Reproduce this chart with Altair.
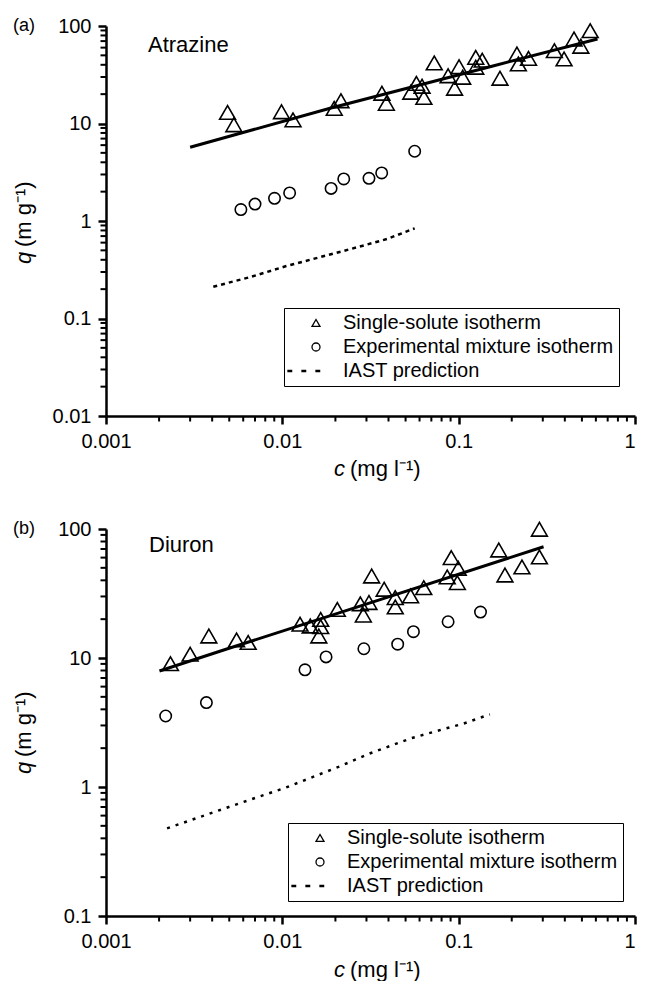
import altair as alt
import pandas as pd

# ---------------- data ----------------
# Panel (a) Atrazine
a_single_c = [0.00489, 0.00531, 0.00989, 0.0115, 0.0197, 0.0215, 0.0367, 0.0389, 0.0535,
              0.0576, 0.0620, 0.0635, 0.0727, 0.0871, 0.0948, 0.1005, 0.1054, 0.125, 0.125,
              0.136, 0.1715, 0.214, 0.218, 0.249, 0.349, 0.396, 0.451, 0.493, 0.557]
a_single_q = [13.0, 9.7, 13.2, 10.9, 14.3, 17.1, 20.4, 16.1, 20.9,
              25.8, 24.1, 18.5, 41.8, 30.9, 23.0, 38.2, 29.8, 47.7, 37.7,
              44.6, 29.1, 51.6, 40.8, 46.6, 55.8, 45.9, 73.6, 61.9, 89.5]
a_mix_c = [0.00582, 0.0070, 0.00903, 0.0110, 0.0189, 0.0223, 0.0310, 0.0366, 0.0563]
a_mix_q = [1.31, 1.49, 1.71, 1.94, 2.16, 2.70, 2.74, 3.11, 5.19]
a_fit_c = [0.0030, 0.0191, 0.1545, 0.613]
a_fit_q = [5.70, 14.5, 38.7, 73.6]
a_iast_c = [0.00406, 0.00648, 0.01042, 0.0244, 0.0393, 0.0563]
a_iast_q = [0.212, 0.264, 0.343, 0.516, 0.654, 0.841]

# Panel (b) Diuron
b_single_c = [0.00232, 0.0030, 0.00383, 0.00550, 0.0064, 0.0126, 0.0144, 0.0165, 0.0165,
              0.0161, 0.0205, 0.0277, 0.0288, 0.0310, 0.0321, 0.0378, 0.0437, 0.0437,
              0.0534, 0.0634, 0.0861, 0.0908, 0.0994, 0.0983, 0.1688, 0.183, 0.2285,
              0.287, 0.287]
b_single_q = [9.03, 10.7, 14.8, 13.8, 13.2, 18.3, 17.7, 19.9, 17.5,
              14.8, 23.8, 26.3, 21.5, 26.9, 43.2, 34.1, 29.4, 24.9,
              30.3, 35.1, 42.5, 60.0, 49.6, 38.4, 68.7, 44.0, 50.8,
              99.5, 60.7]
b_mix_c = [0.00218, 0.00371, 0.01344, 0.0177, 0.0290, 0.0451, 0.0554, 0.0871, 0.133]
b_mix_q = [3.55, 4.51, 8.1, 10.2, 11.8, 12.8, 16.0, 19.1, 22.7]
b_fit_c = [0.00201, 0.00489, 0.0293, 0.303]
b_fit_q = [7.93, 11.8, 25.9, 72.9]
b_iast_c = [0.00222, 0.00497, 0.01042, 0.0208, 0.0310, 0.0534, 0.0754, 0.1064, 0.1503]
b_iast_q = [0.478, 0.700, 0.988, 1.43, 1.81, 2.38, 2.72, 3.10, 3.66]

series_names = ["Single-solute isotherm", "Experimental mixture isotherm", "IAST prediction"]

x_major = [0.001, 0.01, 0.1, 1]
a_y_major = [0.01, 0.1, 1, 10, 100]
b_y_major = [0.1, 1, 10, 100]
minor_steps = [2, 3, 4, 5, 6, 7, 8, 9]

# ---------------- styling ----------------
FONT = "Liberation Sans, Arial, Helvetica, sans-serif"
W = 529
TICK_COLOR = "black"
DASH_PATH = ("M-7,-0.15H-6.1V0.15H-7Z M-3.5,-0.15H-2.6V0.15H-3.5Z "
             "M0,-0.15H0.9V0.15H0Z")


def minor_ticks(major):
    return [round(m * k, 6) for m in major[:-1] for k in minor_steps]


def make_axis(values, is_x):
    kw = dict(
        values=values,
        labelExpr="'' + round(datum.value*1000)/1000",
        ticks=True,
        tickSize=8,
        tickWidth=2.5,
        tickColor=TICK_COLOR,
        domainColor="black",
        domainWidth=2.5,
        labelColor="black",
        labelFont=FONT,
        labelFontSize=20,
        labelPadding=7,
        grid=False,
        title=None,
    )
    if is_x:
        kw["labelAlign"] = {"condition": {"test": "datum.value >= 0.999", "value": "right"},
                            "value": "center"}
    return alt.Axis(**kw)


def text_layer(txt, x, y, **mk):
    df = pd.DataFrame({"t": [txt]})
    return alt.Chart(df).mark_text(font=FONT, color="black", **mk).encode(
        text="t:N", x=alt.value(x), y=alt.value(y))


def panel(single_c, single_q, mix_c, mix_q, fit_c, fit_q, iast_c, iast_q,
          y_major, height, name, letter, leg_x, leg_y, iast_dash,
          name_x, name_y, qy, cy):
    xs = alt.Scale(type="log", domain=[0.001, 1], nice=False)
    ys = alt.Scale(type="log", domain=[y_major[0], y_major[-1]], nice=False)
    xax = make_axis(x_major, True)
    yax = make_axis(y_major, False)

    pts = pd.DataFrame({
        "c": single_c + mix_c,
        "q": single_q + mix_q,
        "series": [series_names[0]] * len(single_c) + [series_names[1]] * len(mix_c),
    })
    fit = pd.DataFrame({"c": fit_c, "q": fit_q})
    iast = pd.DataFrame({"c": iast_c, "q": iast_q})

    fit_line = alt.Chart(fit).mark_line(color="black", strokeWidth=3).encode(
        x=alt.X("c:Q", scale=xs, axis=xax),
        y=alt.Y("q:Q", scale=ys, axis=yax),
    )
    iast_line = alt.Chart(iast).mark_line(color="black", strokeWidth=2.5,
                                          strokeDash=iast_dash).encode(
        x=alt.X("c:Q", scale=xs), y=alt.Y("q:Q", scale=ys))
    xminor = alt.Chart(pd.DataFrame({"v": minor_ticks(x_major)})).mark_rule(
        color=TICK_COLOR, strokeWidth=2).encode(
        x=alt.X("v:Q", scale=xs), y=alt.value(height), y2=alt.value(height + 5.5))
    yminor = alt.Chart(pd.DataFrame({"v": minor_ticks(y_major)})).mark_rule(
        color=TICK_COLOR, strokeWidth=2).encode(
        y=alt.Y("v:Q", scale=ys), x=alt.value(-5.5), x2=alt.value(0))
    points = alt.Chart(pts).mark_point(filled=False, color="black", strokeWidth=1.6,
                                       opacity=1).encode(
        x=alt.X("c:Q", scale=xs),
        y=alt.Y("q:Q", scale=ys),
        shape=alt.Shape("series:N",
                        scale=alt.Scale(domain=series_names,
                                        range=["triangle-up", "circle", DASH_PATH]),
                        legend=alt.Legend(
                            orient="none", legendX=leg_x, legendY=leg_y, title=None,
                            direction="vertical",
                            strokeColor="black", fillColor="white", padding=5,
                            labelFont=FONT, labelFontSize=20, labelColor="black",
                            labelLimit=500,
                            symbolSize=64, symbolStrokeWidth=1.3,
                            symbolStrokeColor="black", symbolOffset=17,
                            labelOffset=17, rowPadding=4)),
        size=alt.Size("series:N",
                      scale=alt.Scale(domain=series_names[:2], range=[250, 130]),
                      legend=None),
    )
    layers = [
        iast_line, fit_line, xminor, yminor, points,
        text_layer(name, name_x, name_y, align="left", baseline="alphabetic", fontSize=22),
        text_layer(letter, -93, 0, align="left", baseline="middle", fontSize=18),
        text_layer("q", -75, qy, align="left", baseline="alphabetic", fontSize=22,
                   angle=270, fontStyle="italic"),
        text_layer("(m g\u207b\u00b9)", -75, qy - 17, align="left", baseline="alphabetic",
                   fontSize=22, angle=270),
        text_layer("c", 228, cy, align="left", baseline="alphabetic", fontSize=22,
                   fontStyle="italic"),
        text_layer("(mg l\u207b\u00b9)", 244, cy, align="left", baseline="alphabetic",
                   fontSize=22),
    ]
    return alt.layer(*layers).properties(width=W, height=height)


top = panel(a_single_c, a_single_q, a_mix_c, a_mix_q, a_fit_c, a_fit_q,
            a_iast_c, a_iast_q, a_y_major, 390, "Atrazine", "(a)",
            178, 282, [4, 4], 42, 26, 238, 450)
bottom = panel(b_single_c, b_single_q, b_mix_c, b_mix_q, b_fit_c, b_fit_q,
               b_iast_c, b_iast_q, b_y_major, 387, "Diuron", "(b)",
               182, 294, [3, 6], 43, 23, 245, 448)

chart = alt.vconcat(top, bottom, spacing=39).resolve_scale(
    shape="independent", size="independent", x="independent", y="independent"
).properties(
    padding={"left": 5, "top": 8, "right": 0, "bottom": 0},
    background="white",
).configure_view(stroke=None)

chart.save("out.html", embed_options={"renderer": "svg", "actions": False})
